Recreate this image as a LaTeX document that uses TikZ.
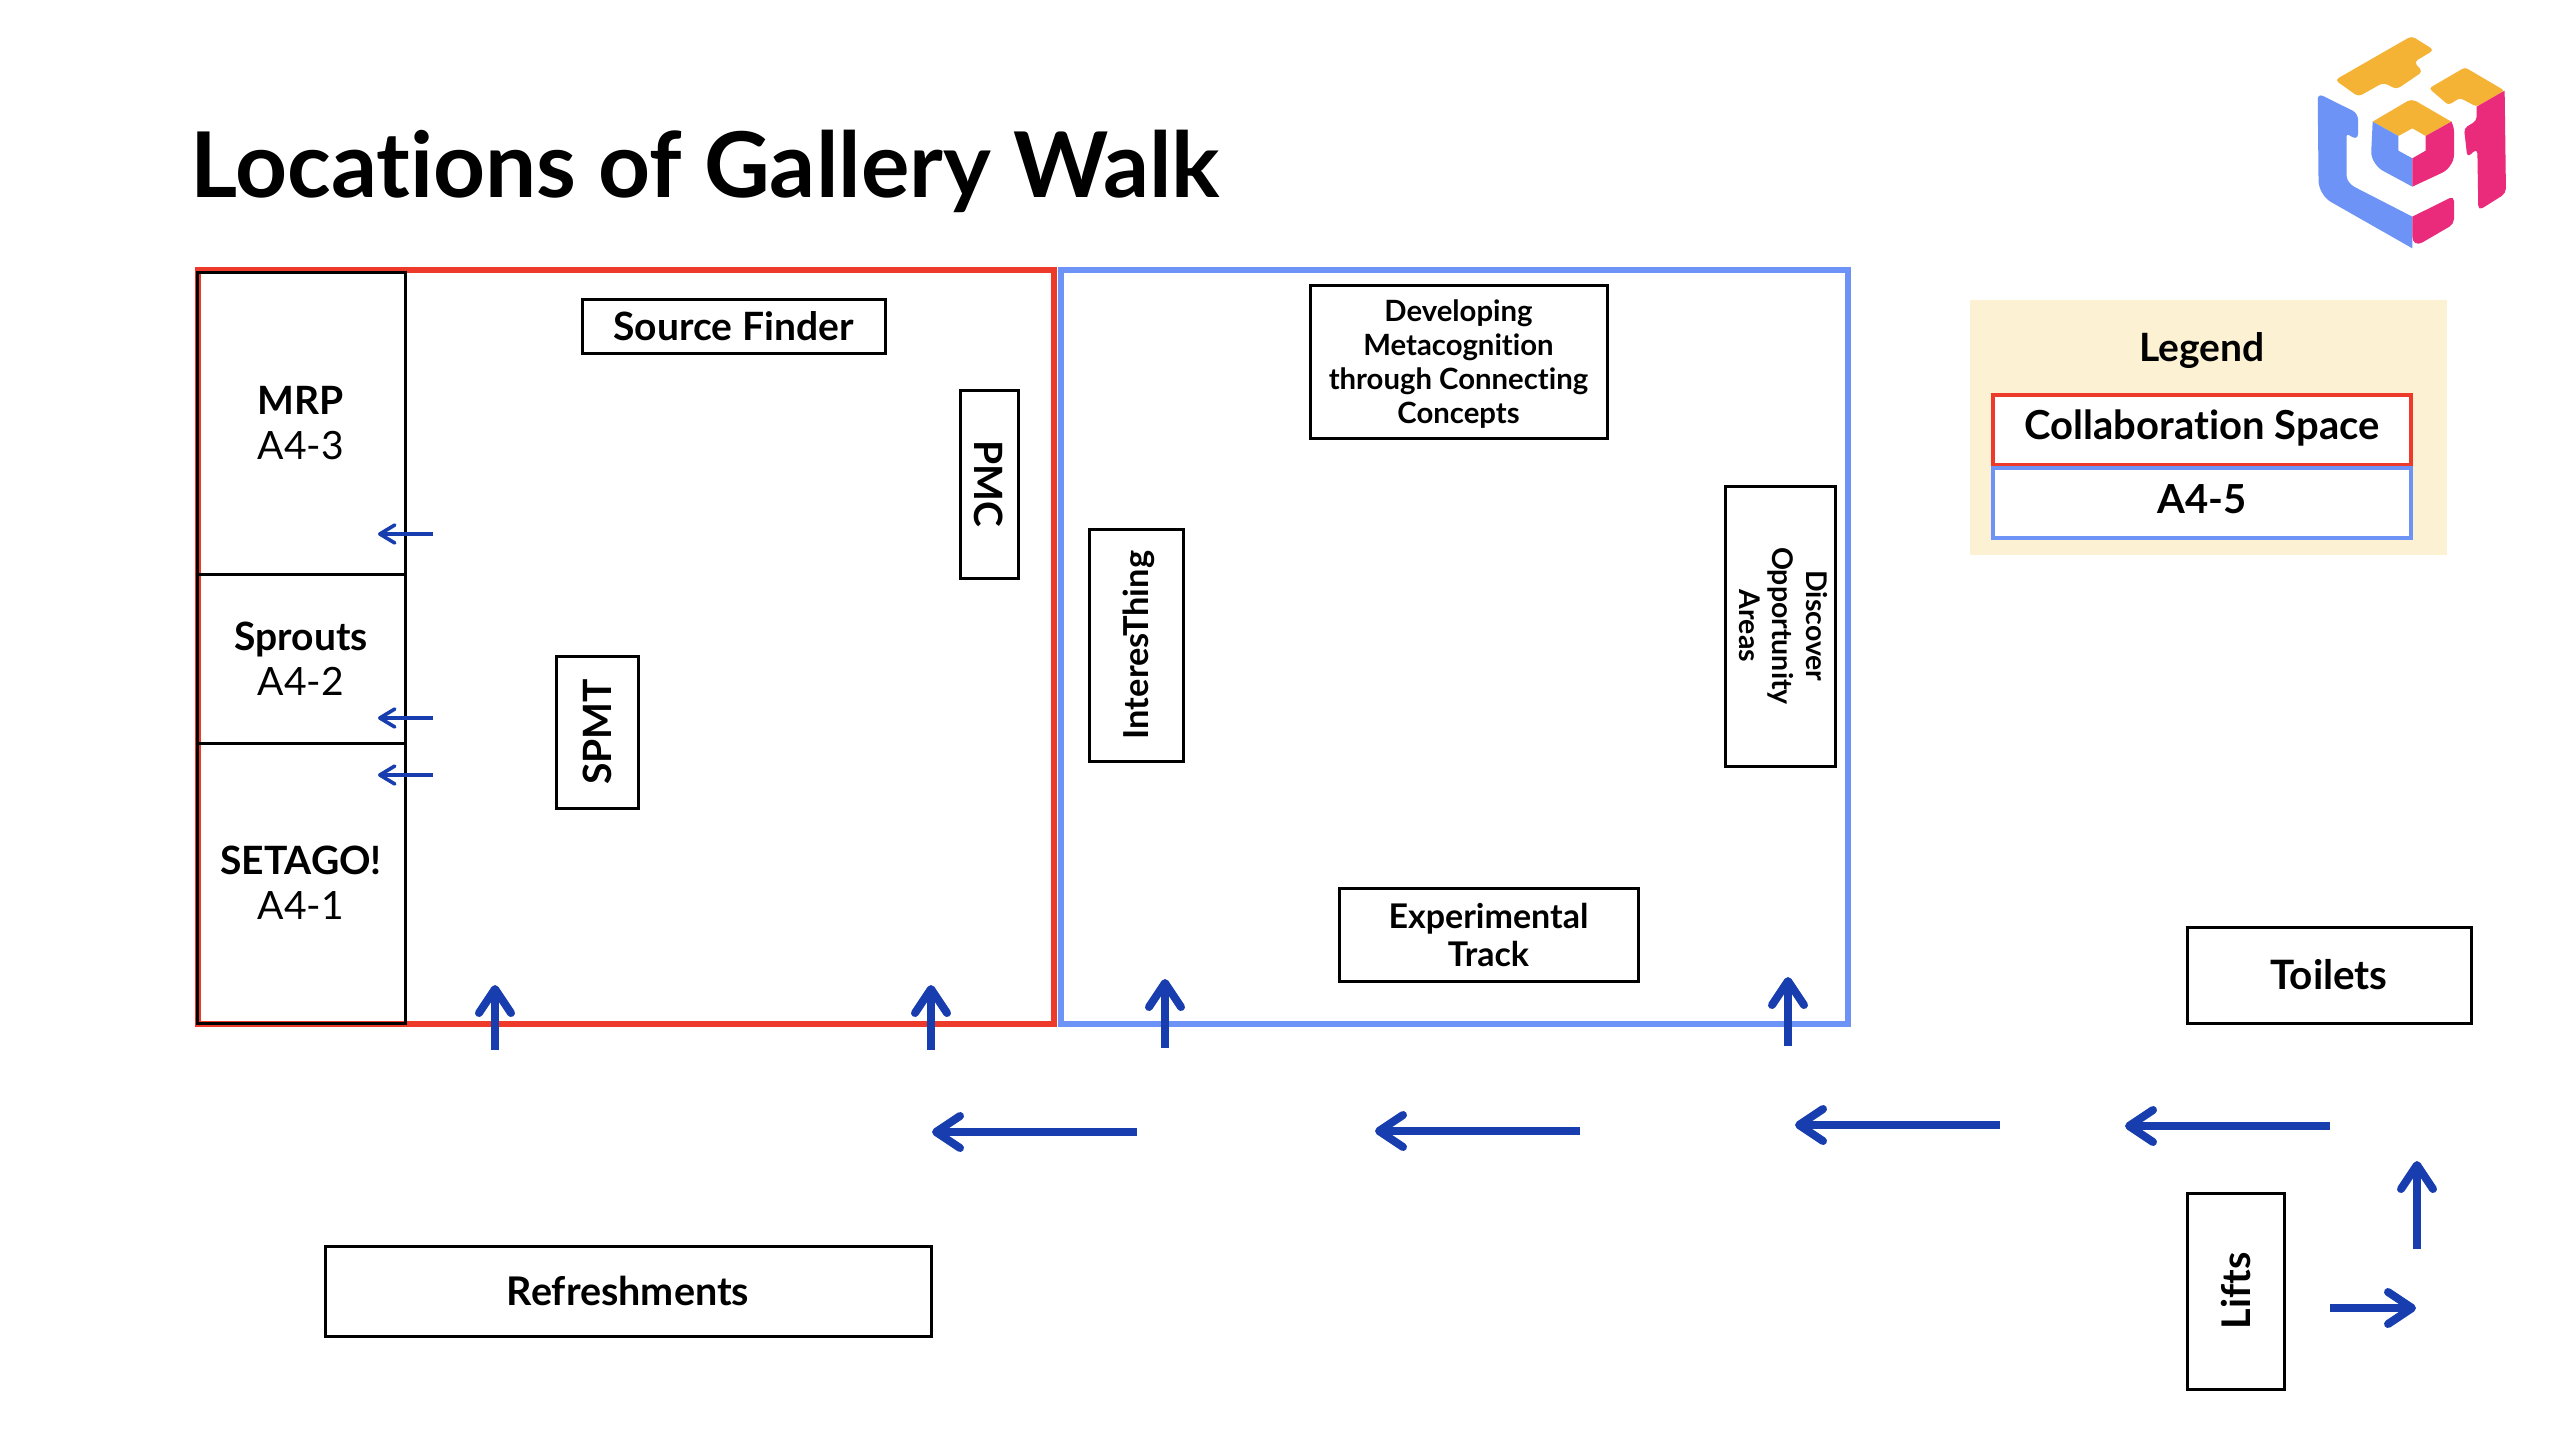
\documentclass[tikz,border=0pt]{standalone}
\usepackage{fontspec}
\setmainfont[Ligatures=NoCommon]{Lato}
\usetikzlibrary{arrows.meta}
\definecolor{cred}{HTML}{EE3A2B}
\definecolor{cblue}{HTML}{6C93F5}
\definecolor{carrow}{HTML}{173DAE}
\definecolor{cleg}{HTML}{FDF1D3}
\definecolor{corange}{HTML}{F5B335}
\definecolor{cpink}{HTML}{EA2B7B}
\newcommand\nudge[2]{\raisebox{#1}[\height][\depth]{#2}}
\tikzset{
  x=1pt,y=-1pt,
  room/.style={draw=black,line width=3pt,inner sep=0pt,outer sep=0pt,align=center,font=\fontsize{39}{45}\selectfont},
  stand/.style 2 args={room,font=\fontsize{#1}{#2}\selectfont\bfseries},
  thinarrow/.style={draw=carrow,line width=3.6pt,-{Straight Barb[length=15pt,width=18pt,round,line width=3.6pt]}},
  widearrow/.style={draw=carrow,line width=8pt,-{Straight Barb[length=24pt,width=32pt,round,line width=8pt]}},
  legbox/.style={line width=4pt,fill=white,inner sep=0pt,outer sep=0pt,align=center,font=\fontsize{40}{46}\selectfont\bfseries},
}
\begin{document}
\begin{tikzpicture}
\useasboundingbox (0,0) rectangle (2552,1436);
\fill[white] (0,0) rectangle (2552,1436);
% title
\node[inner sep=0pt,anchor=center,font=\fontsize{90.7}{100}\selectfont\bfseries] (title) at (705,171) {Locations of Gallery Walk};
% areas
\node[draw=cred,line width=6pt,minimum width=856pt,minimum height=754pt,inner sep=0pt] (collab) at (626,647) {};
\node[draw=cblue,line width=6pt,minimum width=787pt,minimum height=754pt,inner sep=0pt] (a45) at (1454.5,647) {};
% left rooms
\node[room,minimum width=208pt,minimum height=302pt] (mrp) at (301,423) {\textbf{MRP}\\A4-3};
\node[room,minimum width=208pt,minimum height=169pt] (sprouts) at (301,658.5) {\textbf{Sprouts}\\A4-2};
\node[room,minimum width=208pt,minimum height=280pt] (setago) at (301,883) {\textbf{SETAGO!}\\A4-1};
% stands
\node[stand={39}{46},minimum width=303pt,minimum height=54pt] (source) at (733.5,326) {Source Finder};
\node[stand={39}{46},rotate=-90,minimum width=188pt,minimum height=58pt] (pmc) at (989,484) {PMC};
\node[stand={39}{46},rotate=90,minimum width=152pt,minimum height=82pt] (spmt) at (597,732) {SPMT};
\node[stand={29.3}{34},minimum width=297pt,minimum height=153pt] (dev) at (1458.5,361.5) {\nudge{-3pt}{\parbox{290pt}{\centering Developing\\Metacognition\\through Connecting\\Concepts}}};
\node[stand={34.4}{40},rotate=90,minimum width=232pt,minimum height=94pt] (inter) at (1136,645) {\nudge{-3pt}{InteresThing}};
\node[stand={28.5}{33.5},rotate=-90,minimum width=280pt,minimum height=110pt] (disc) at (1780,626) {\nudge{3pt}{\parbox{270pt}{\centering Discover\\Opportunity\\Areas}}};
\node[stand={34}{38},minimum width=299pt,minimum height=93pt] (exp) at (1488.5,934.5) {Experimental\\Track};
\node[stand={40.5}{46},minimum width=284pt,minimum height=96pt] (toilets) at (2329,975) {Toilets};
\node[stand={39.5}{46},minimum width=606pt,minimum height=90pt] (refresh) at (628,1291) {Refreshments};
\node[stand={39.5}{46},rotate=90,minimum width=196pt,minimum height=97pt] (lifts) at (2235.5,1291) {Lifts};
% legend
\fill[cleg] (1970,300) rectangle (2447,555);
\node[font=\fontsize{39}{46}\selectfont\bfseries,inner sep=0pt] (legend) at (2202,351) {Legend};
\node[legbox,draw=cred,minimum width=418pt,minimum height=70pt] (legred) at (2202,430) {\nudge{2pt}{Collaboration Space}};
\node[legbox,draw=cblue,minimum width=418pt,minimum height=70pt] (legblue) at (2202,502.5) {\nudge{3pt}{A4-5}};
% thin arrows
\coordinate (t1s) at (433,534); \coordinate (t1e) at (378,534);
\coordinate (t2s) at (433,718); \coordinate (t2e) at (378,718);
\coordinate (t3s) at (433,775); \coordinate (t3e) at (378,775);
\draw[thinarrow] (t1s) -- (t1e);
\draw[thinarrow] (t2s) -- (t2e);
\draw[thinarrow] (t3s) -- (t3e);
% thick arrows
\coordinate (u1s) at (495,1050); \coordinate (u1e) at (495,985);
\coordinate (u2s) at (931,1050); \coordinate (u2e) at (931,985);
\coordinate (u3s) at (1165,1048); \coordinate (u3e) at (1165,979);
\coordinate (u4s) at (1788,1046); \coordinate (u4e) at (1788,977);
\coordinate (u5s) at (2417,1249); \coordinate (u5e) at (2417,1161);
\coordinate (h1s) at (1137,1132); \coordinate (h1e) at (932,1132);
\coordinate (h2s) at (1580,1131); \coordinate (h2e) at (1375,1131);
\coordinate (h3s) at (2000,1125); \coordinate (h3e) at (1795,1125);
\coordinate (h4s) at (2330,1126); \coordinate (h4e) at (2125,1126);
\coordinate (r1s) at (2330,1308); \coordinate (r1e) at (2416,1308);
\foreach \a in {u1,u2,u3,u4,u5,h1,h2,h3,h4,r1} \draw[widearrow] (\a s) -- (\a e);
% logo
\begin{scope}[shift={(2280,0)},x=0.3333pt,y=-0.3333pt]
\fill[corange,rounded corners=4pt] (165,240) -- (395,108) -- (462,150) -- (402,186) -- (428,215) -- (350,268) -- (310,248) -- (235,290) -- cycle;
\fill[corange,rounded corners=3pt] (447,265) -- (555,202) -- (674,272) -- (590,320) -- (540,294) -- (505,315) -- cycle;
\fill[corange] (278,365) [rounded corners=5pt] -- (395,296) [sharp corners] -- (514,365) -- (437,408) -- (397,385) -- (355,408) -- cycle;
\fill[cblue] (278,365) -- (355,408) -- (355,452) -- (397,475) -- (397,560) [rounded corners=5pt] -- (295,505) -- (273,470) [sharp corners] -- cycle;
\fill[cpink] (514,365) [rounded corners=5pt] -- (522,380) -- (522,480) -- (500,512) [sharp corners] -- (397,560) -- (397,475) -- (437,452) -- (437,408) -- cycle;
\fill[cblue,rounded corners=6pt] (113,280) -- (234,340) -- (234,420) [rounded corners=2pt] -- (200,402) -- (200,535) [rounded corners=4pt] -- (212,555) [sharp corners] -- (397,650) -- (397,745) [rounded corners=14pt] -- (116,585) [rounded corners=6pt] -- cycle;
\fill[cpink] (397,650) [rounded corners=5pt] -- (522,588) -- (522,672) [rounded corners=12pt] -- (397,745) [sharp corners] -- cycle;
\fill[cpink] (590,320) -- (674,272) [rounded corners=5pt] -- (678,580) -- (595,632) -- (592,445) [rounded corners=4pt] -- (562,472) -- (552,385) -- (590,362) [sharp corners] -- cycle;
\end{scope}
\end{tikzpicture}
\end{document}
